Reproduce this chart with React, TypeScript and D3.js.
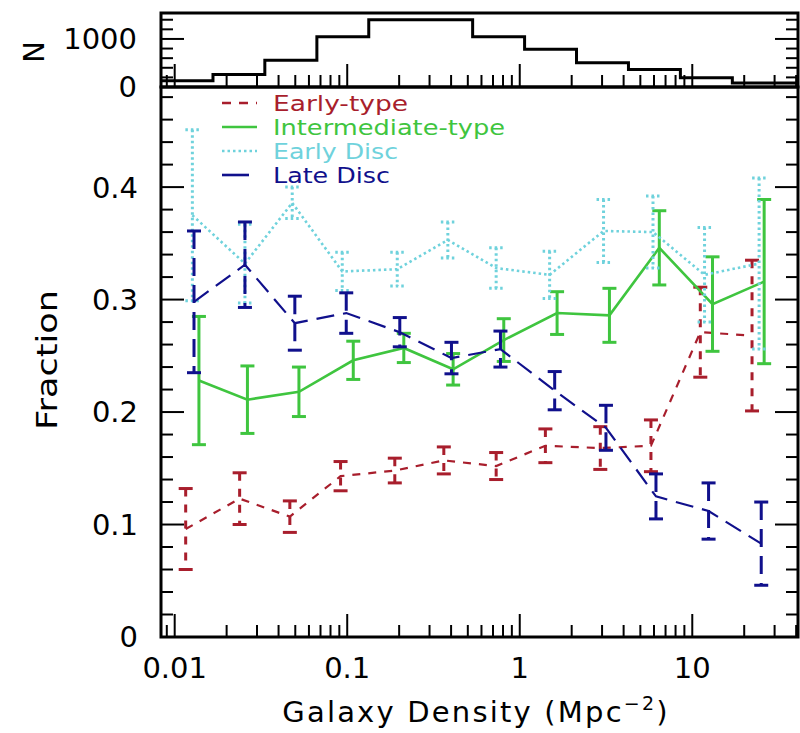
import React from "react";
import * as d3 from "d3";

// Histogram of galaxy counts per density bin
const histEdges = [0.00833, 0.01667, 0.0333, 0.0667, 0.1333, 0.2667, 0.5333, 1.0667, 2.133, 4.267, 8.533, 17.07, 41];
const histCounts = [130, 260, 555, 1045, 1400, 1400, 1045, 785, 505, 365, 190, 85];

// Early-type
const earlyX = [0.01158, 0.02379, 0.0465, 0.0915, 0.1887, 0.363, 0.73, 1.408, 2.93, 5.76, 11.13, 22.2];
const earlyY = [0.096, 0.123, 0.107, 0.143, 0.148, 0.157, 0.152, 0.17, 0.168, 0.17, 0.271, 0.268];
const earlyErr = [0.036, 0.023, 0.014, 0.013, 0.011, 0.012, 0.012, 0.015, 0.019, 0.023, 0.04, 0.067];

// Intermediate-type
const interX = [0.01382, 0.0264, 0.0525, 0.1084, 0.2128, 0.411, 0.808, 1.646, 3.31, 6.44, 13.1, 26.1];
const interY = [0.228, 0.211, 0.218, 0.246, 0.257, 0.238, 0.264, 0.288, 0.286, 0.346, 0.296, 0.316];
const interErr = [0.057, 0.03, 0.022, 0.017, 0.013, 0.014, 0.019, 0.019, 0.024, 0.033, 0.042, 0.073];

// Early Disc
const eDiscX = [0.01266, 0.02554, 0.048, 0.0936, 0.195, 0.383, 0.73, 1.49, 3.06, 5.92, 11.78, 24.4];
const eDiscY = [0.375, 0.332, 0.386, 0.325, 0.327, 0.353, 0.328, 0.322, 0.361, 0.36, 0.322, 0.332];
const eDiscErr = [0.076, 0.035, 0.014, 0.017, 0.015, 0.016, 0.018, 0.021, 0.028, 0.032, 0.042, 0.076];

// Late Disc
const lDiscX = [0.01294, 0.02554, 0.0497, 0.0987, 0.2017, 0.402, 0.773, 1.594, 3.16, 6.16, 12.43, 25.1];
const lDiscY = [0.298, 0.331, 0.279, 0.288, 0.271, 0.248, 0.256, 0.219, 0.186, 0.125, 0.112, 0.083];
const lDiscErr = [0.063, 0.038, 0.024, 0.018, 0.013, 0.014, 0.016, 0.017, 0.02, 0.02, 0.025, 0.037];

const seriesNames = ["Early-type", "Intermediate-type", "Early Disc", "Late Disc"];
const xTickLabels = ["0.01", "0.1", "1", "10"];
const yTickLabels = ["0", "0.1", "0.2", "0.3", "0.4"];
const histTickLabels = ["0", "1000"];

const FONT = "DejaVu Sans, sans-serif";

const L = 161, R = 798, MT = 87, MB = 637, HT = 13;

export default function App() {
  const x = d3.scaleLog().domain([0.00833, 41]).range([L, R]);
  const y = d3.scaleLinear().domain([0, 0.489]).range([MB, MT]);
  const yh = d3.scaleLinear().domain([0, 1540]).range([MT, HT]);

  const series = [
    { name: seriesNames[0], xs: earlyX, ys: earlyY, es: earlyErr, color: "#a81e2c", dash: "8,8", lw: 2.2 },
    { name: seriesNames[1], xs: interX, ys: interY, es: interErr, color: "#3fc53f", dash: "none", lw: 2.6 },
    { name: seriesNames[2], xs: eDiscX, ys: eDiscY, es: eDiscErr, color: "#6fd2dc", dash: "2.5,3", lw: 2.6 },
    { name: seriesNames[3], xs: lDiscX, ys: lDiscY, es: lDiscErr, color: "#10108c", dash: "18,9", lw: 2.2 },
  ];

  const line = d3.line<[number, number]>().x((d) => x(d[0])).y((d) => y(d[1]));

  const histPts: [number, number][] = histCounts.map((c, i) => [histEdges[i], c]);
  histPts.push([histEdges[histEdges.length - 1], histCounts[histCounts.length - 1]]);
  const histLine = d3
    .line<[number, number]>()
    .x((d) => x(d[0]))
    .y((d) => yh(d[1]))
    .curve(d3.curveStepAfter);

  // x ticks
  const xTicks: { v: number; major: boolean }[] = [];
  for (let d = -3; d <= 1; d++) {
    for (let k = 1; k <= 9; k++) {
      const v = k * Math.pow(10, d);
      if (v >= 0.00833 && v <= 41) xTicks.push({ v, major: k === 1 });
    }
  }
  const yTicks = d3.range(0, 0.4801, 0.02).map((v, i) => ({ v, major: i % 5 === 0 }));
  const hTicks = d3.range(0, 1401, 200).map((v) => ({ v, major: v === 0 || v === 1000 }));

  const MAJ = 23, MIN = 12;
  const capW = 7;

  const legendY = [103, 127, 151, 175];
  const legendTextLen = [135, 232, 125, 117];

  return (
    <svg width={800} height={733} style={{ position: "absolute", left: 0, top: 0, background: "#fff" }}>
      {/* Histogram panel */}
      <path d={histLine(histPts) || ""} fill="none" stroke="#000" strokeWidth={3} />
      {xTicks.map((t, i) => (
        <line key={"hx" + i} x1={x(t.v)} x2={x(t.v)} y1={MT} y2={MT - (t.major ? MAJ : MIN)} stroke="#000" strokeWidth={2} />
      ))}
      {hTicks.map((t, i) => (
        <g key={"hy" + i}>
          <line x1={L} x2={L + (t.major ? MAJ : MIN)} y1={yh(t.v)} y2={yh(t.v)} stroke="#000" strokeWidth={2} />
          <line x1={R} x2={R - (t.major ? MAJ : MIN)} y1={yh(t.v)} y2={yh(t.v)} stroke="#000" strokeWidth={2} />
        </g>
      ))}
      <rect x={L} y={HT} width={R - L} height={MT - HT} fill="none" stroke="#000" strokeWidth={3} />
      {[0, 1000].map((v, i) => (
        <text key={"hl" + i} x={137} y={yh(v)} dy="0.36em" textAnchor="end" fontFamily={FONT} fontSize={29}>
          {histTickLabels[i]}
        </text>
      ))}
      <text transform="translate(44,52) rotate(-90)" textAnchor="middle" fontFamily={FONT} fontSize={29}>
        N
      </text>

      {/* Main panel ticks */}
      {xTicks.map((t, i) => (
        <line key={"mx" + i} x1={x(t.v)} x2={x(t.v)} y1={MB} y2={MB - (t.major ? MAJ : MIN)} stroke="#000" strokeWidth={2} />
      ))}
      {yTicks.map((t, i) => (
        <g key={"my" + i}>
          <line x1={L} x2={L + (t.major ? MAJ : MIN)} y1={y(t.v)} y2={y(t.v)} stroke="#000" strokeWidth={2} />
          <line x1={R} x2={R - (t.major ? MAJ : MIN)} y1={y(t.v)} y2={y(t.v)} stroke="#000" strokeWidth={2} />
        </g>
      ))}

      {/* Series */}
      {series.map((s, si) => {
        const pts: [number, number][] = s.xs.map((xv, i) => [xv, s.ys[i]]);
        return (
          <g key={"s" + si}>
            <path d={line(pts) || ""} fill="none" stroke={s.color} strokeWidth={s.lw} strokeDasharray={s.dash} />
            {pts.map((p, i) => {
              const cx = x(p[0]);
              const y1 = y(p[1] + s.es[i]);
              const y2 = y(p[1] - s.es[i]);
              return (
                <g key={i} stroke={s.color} strokeWidth={3}>
                  <line x1={cx} x2={cx} y1={y1} y2={y2} strokeDasharray={s.dash} />
                  <line x1={cx - capW} x2={cx + capW} y1={y1} y2={y1} strokeDasharray={si === 2 ? s.dash : "none"} />
                  <line x1={cx - capW} x2={cx + capW} y1={y2} y2={y2} strokeDasharray={si === 2 ? s.dash : "none"} />
                </g>
              );
            })}
          </g>
        );
      })}

      {/* Legend */}
      {series.map((s, i) => (
        <g key={"lg" + i}>
          <line x1={222} x2={257} y1={legendY[i]} y2={legendY[i]} stroke={s.color} strokeWidth={2.6} strokeDasharray={i === 0 ? "9,8" : i === 3 ? "27,20" : s.dash} />
          <text x={273} y={legendY[i] + 8} fontFamily={FONT} fontSize={21} fill={s.color} textLength={legendTextLen[i]} lengthAdjust="spacingAndGlyphs">
            {s.name}
          </text>
        </g>
      ))}

      {/* Main frame */}
      <rect x={L} y={MT} width={R - L} height={MB - MT} fill="none" stroke="#000" strokeWidth={3} />

      {/* Tick labels */}
      {[0.01, 0.1, 1, 10].map((v, i) => (
        <text key={"xl" + i} x={x(v)} y={678} textAnchor="middle" fontFamily={FONT} fontSize={29}>
          {xTickLabels[i]}
        </text>
      ))}
      {[0, 0.1, 0.2, 0.3, 0.4].map((v, i) => (
        <text key={"yl" + i} x={138} y={y(v)} dy="0.36em" textAnchor="end" fontFamily={FONT} fontSize={29}>
          {yTickLabels[i]}
        </text>
      ))}

      {/* Axis titles */}
      <text transform="translate(57,360) rotate(-90)" textAnchor="middle" fontFamily={FONT} fontSize={28} textLength={140} lengthAdjust="spacingAndGlyphs">
        Fraction
      </text>
      <text x={476} y={722} textAnchor="middle" fontFamily={FONT} fontSize={29} letterSpacing={2.2}>
        Galaxy Density (Mpc
        <tspan fontSize={19} dy={-12}>−2</tspan>
        <tspan dy={12}>)</tspan>
      </text>
    </svg>
  );
}
